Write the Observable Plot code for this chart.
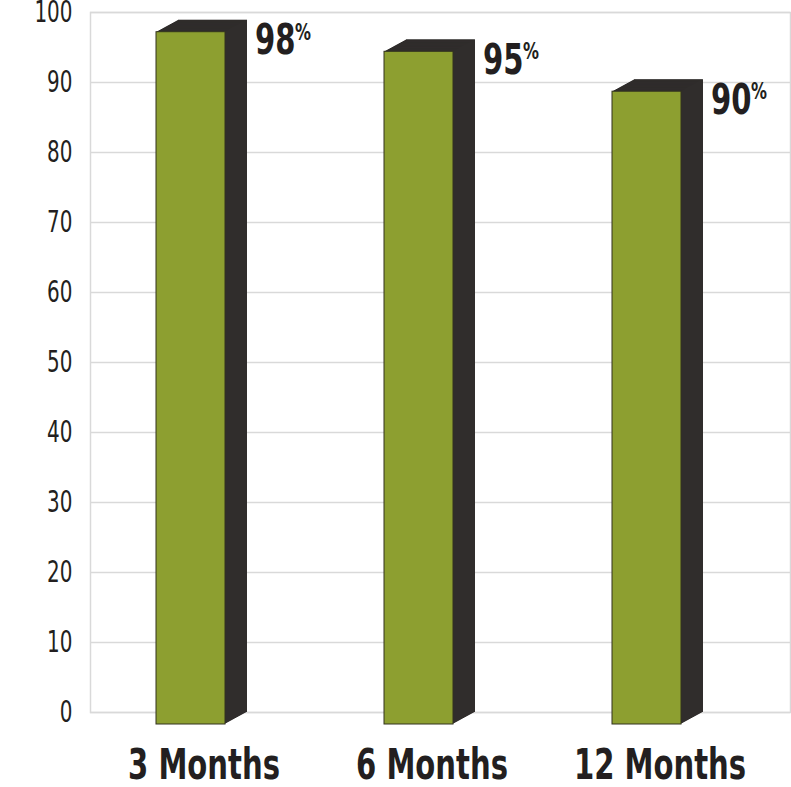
<!DOCTYPE html>
<html>
<head>
<meta charset="utf-8">
<script src="https://cdn.jsdelivr.net/npm/d3@7"></script>
<script src="https://cdn.jsdelivr.net/npm/@observablehq/plot@0.6"></script>
<style>
  html, body { margin: 0; padding: 0; background: #fff; }
</style>
</head>
<body>
<div id="chart"></div>
<script>
const categories = ["3 Months", "6 Months", "12 Months"];
const values = [98.9, 96.1, 90.4];     // bar heights as drawn
const labels = ["98", "95", "90"];     // value labels as printed
const yTicks = [0, 10, 20, 30, 40, 50, 60, 70, 80, 90, 100];

const data = categories.map((c, i) => ({category: c, value: values[i], label: labels[i]}));

const DEPTH_X = 22, DEPTH_Y = 12;
const font = "'DejaVu Sans Condensed', 'DejaVu Sans', sans-serif";

const depthMarks = d3.range(0, DEPTH_X).map(k =>
  Plot.barY(data, {x: "category", y: "value", fill: "#302d2c", dx: -k, dy: k * DEPTH_Y / DEPTH_X})
);

const chart = Plot.plot({
  width: 791,
  height: 787,
  marginLeft: 90,
  marginRight: 1,
  marginTop: 12,
  marginBottom: 75,
  style: {fontFamily: font, background: "#fff"},
  x: {domain: categories, paddingInner: 0.698, paddingOuter: 0.38, label: null},
  y: {domain: [0, 100], label: null},
  marks: [
    Plot.ruleY(yTicks, {stroke: "#d9d9d9", strokeWidth: 1.5}),
    Plot.frame({stroke: "#d9d9d9", strokeWidth: 1.5}),
    ...depthMarks,
    Plot.barY(data, {x: "category", y: "value", fill: "#8d9f30", stroke: "#33331f", strokeWidth: 1, dx: -DEPTH_X, dy: DEPTH_Y}),
    Plot.text(data, {x: "category", y: "value", text: "label", dx: 42, dy: 4, textAnchor: "start", lineAnchor: "top", fontSize: 42, fontWeight: "bold", fill: "#231f20", className: "cond-bold"}),
    Plot.text(data, {x: "category", y: "value", text: () => "%", dx: 82, dy: 3, textAnchor: "start", lineAnchor: "top", fontSize: 23, fontWeight: "bold", fill: "#231f20", className: "cond-bold"}),
    Plot.axisY({ticks: yTicks, tickSize: 0, tickPadding: 18, fontSize: 30, fill: "#231f20", label: null, className: "cond-reg"}),
    Plot.axisX({tickSize: 0, tickPadding: 37, fontSize: 42, fontWeight: "bold", fill: "#231f20", dx: -9, label: null, className: "cond-bold"})
  ]
});

// Horizontally condense text to mimic a condensed typeface
function condense(root, selector, s) {
  root.querySelectorAll(selector).forEach(t => {
    const x = +(t.getAttribute("x") || 0);
    const prev = t.getAttribute("transform") || "";
    t.setAttribute("transform", `${prev} translate(${x},0) scale(${s},1) translate(${-x},0)`);
  });
}
condense(chart, ".cond-bold text", 0.77);
condense(chart, ".cond-reg text", 0.74);

document.getElementById("chart").appendChild(chart);
</script>
</body>
</html>
